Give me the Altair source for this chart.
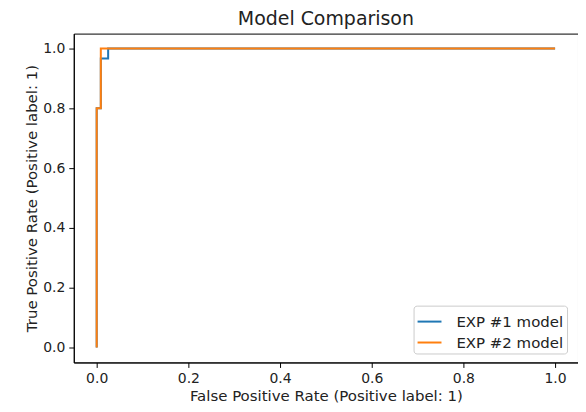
import altair as alt
import pandas as pd

fpr1 = [0.0, 0.0, 0.009, 0.009, 0.025, 0.025, 1.0]
tpr1 = [0.0, 0.8, 0.8, 0.967, 0.967, 1.0, 1.0]
fpr2 = [0.0, 0.0, 0.009, 0.009, 1.0]
tpr2 = [0.0, 0.8, 0.8, 1.0, 1.0]
names = ["EXP #1 model", "EXP #2 model"]
ticks = [0.0, 0.2, 0.4, 0.6, 0.8, 1.0]

rows = []
for name, fx, ty in [(names[0], fpr1, tpr1), (names[1], fpr2, tpr2)]:
    for i, (a, b) in enumerate(zip(fx, ty)):
        rows.append({"model": name, "fpr": a, "tpr": b, "i": i})
df = pd.DataFrame(rows)

font = "DejaVu Sans"
chart = alt.Chart(df).mark_line(strokeWidth=2).encode(
    x=alt.X("fpr:Q", scale=alt.Scale(domain=[-0.05, 1.05], nice=False, zero=False),
            axis=alt.Axis(values=ticks, format=".1f", title="False Positive Rate (Positive label: 1)")),
    y=alt.Y("tpr:Q", scale=alt.Scale(domain=[-0.05, 1.05], nice=False, zero=False),
            axis=alt.Axis(values=ticks, format=".1f", title="True Positive Rate (Positive label: 1)")),
    color=alt.Color("model:N", scale=alt.Scale(domain=names, range=["#1f77b4", "#ff7f0e"]),
                    legend=alt.Legend(title=None, orient="none", legendX=341, legendY=273,
                                      symbolType="stroke", symbolStrokeWidth=2, symbolSize=576,
                                      labelFontSize=15, labelFont=font, labelColor="#222",
                                      labelOffset=14,
                                      fillColor="white", strokeColor="#ccc", cornerRadius=3,
                                      padding=3, rowPadding=-1)),
    order="i:Q",
).properties(
    width=506, height=330,
    title=alt.TitleParams("Model Comparison", font=font, fontSize=19, fontWeight="normal",
                          color="#222", offset=5),
    autosize=alt.AutoSizeParams(type="none"),
    padding={"left": 66, "top": 25, "right": 0, "bottom": 41},
).configure_view(stroke="black", strokeWidth=1).configure_axis(
    grid=False, domainColor="black", tickColor="black", tickSize=5,
    labelFont=font, labelFontSize=14, labelColor="#222", labelPadding=4,
    titleFont=font, titleFontSize=15, titleFontWeight="normal", titleColor="#222",
).configure_axisX(titlePadding=3).configure_axisY(titlePadding=3)

chart.save("out.html", embed_options={"renderer": "svg", "actions": False})
